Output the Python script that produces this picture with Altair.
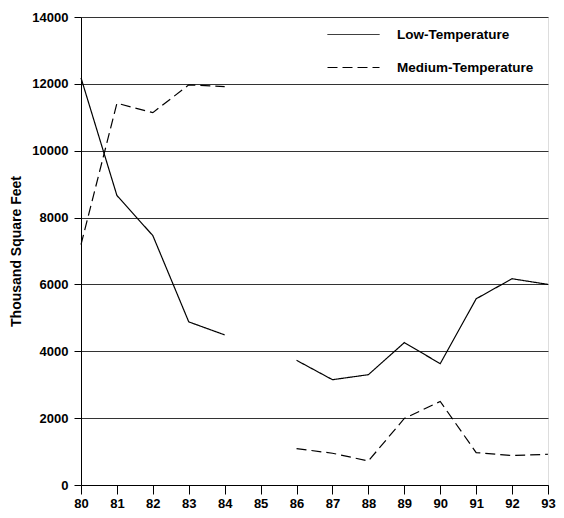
import altair as alt
import pandas as pd

years = [80, 81, 82, 83, 84, 86, 87, 88, 89, 90, 91, 92, 93]
segments = ["a", "a", "a", "a", "a", "b", "b", "b", "b", "b", "b", "b", "b"]
low_temp = [12180, 8660, 7460, 4880, 4490, 3730, 3150, 3300, 4260, 3630, 5570, 6170, 6000]
med_temp = [7190, 11420, 11140, 11970, 11920, 1090, 950, 720, 1990, 2500, 970, 880, 920]
series_names = ["Low-Temperature", "Medium-Temperature"]
x_ticks = list(range(80, 94))
y_ticks = list(range(0, 14001, 2000))

rows = []
for name, vals in zip(series_names, [low_temp, med_temp]):
    for yr, seg, v in zip(years, segments, vals):
        rows.append({"Year": yr, "Value": v, "Series": name, "Segment": name + seg})
df = pd.DataFrame(rows)

FONT = "Liberation Sans"

chart = alt.Chart(df).mark_line(color="black", strokeWidth=1.2).encode(
    x=alt.X("Year:Q",
            scale=alt.Scale(domain=[80, 93], nice=False, zero=False),
            axis=alt.Axis(values=x_ticks, format="d", title=None, grid=False,
                          labelFont=FONT, labelFontSize=13, labelFontWeight="bold",
                          labelColor="black", tickColor="black", domainColor="black",
                          tickSize=9, labelPadding=3, labelFlush=False)),
    y=alt.Y("Value:Q",
            scale=alt.Scale(domain=[0, 14000], nice=False),
            axis=alt.Axis(values=y_ticks, format="d", title="Thousand Square Feet",
                          grid=True, gridColor="#333333", gridWidth=1,
                          labelFont=FONT, labelFontSize=13, labelFontWeight="bold",
                          labelColor="black", tickColor="black", domainColor="black",
                          tickSize=7, labelPadding=6,
                          titleFont=FONT, titleFontSize=14, titleFontWeight="bold",
                          titleColor="black", titlePadding=8)),
    strokeDash=alt.StrokeDash("Series:N",
                              scale=alt.Scale(domain=series_names, range=[[1, 0], [10, 5]]),
                              legend=alt.Legend(title=None, orient="none", legendX=246, legendY=-9,
                                                symbolType="stroke", symbolSize=2704,
                                                symbolStrokeColor="black", symbolStrokeWidth=1,
                                                labelFont=FONT, labelFontSize=13.5,
                                                labelFontWeight="bold", labelColor="black",
                                                labelOffset=17, rowPadding=-34)),
    detail="Segment:N",
).properties(
    width=467, height=468,
    autosize=alt.AutoSizeParams(type="none"),
    padding={"left": 73, "top": 9, "right": 8, "bottom": 24},
).configure_view(stroke=None).configure(background="white")

chart.save("out.html", embed_options={"renderer": "svg", "actions": False})
